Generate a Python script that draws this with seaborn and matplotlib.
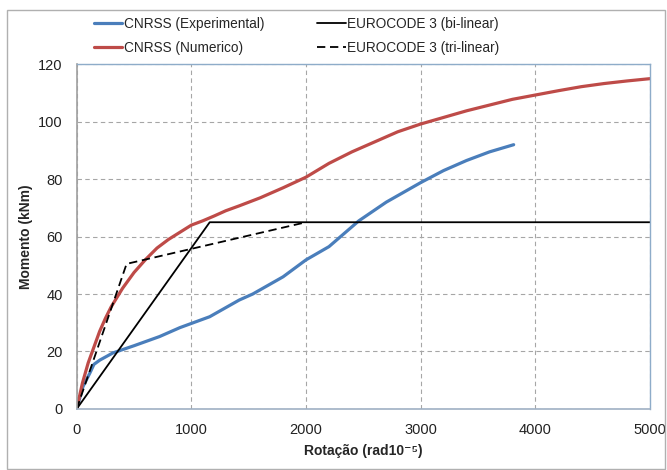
import numpy as np
import pandas as pd
import matplotlib
matplotlib.use("Agg")
import matplotlib.pyplot as plt
import seaborn as sns
from matplotlib.patches import Rectangle

# Data
exp_rot = [0, 55, 115, 150, 202, 316, 500, 723, 900, 1160, 1417, 1535, 1800,
           2000, 2200, 2461, 2700, 3000, 3200, 3400, 3600, 3811]
exp_mom = [0, 7.8, 12.5, 15.5, 17, 19.5, 22, 25.2, 28.3, 32.1, 37.9, 40, 46,
           51.9, 56.5, 65.5, 72, 78.8, 83, 86.5, 89.5, 92]

num_rot = [0, 50, 100, 150, 200, 250, 300, 400, 500, 600, 700, 800, 900, 1000,
           1100, 1200, 1300, 1417, 1600, 1800, 2000, 2200, 2400, 2600, 2800,
           3000, 3200, 3400, 3600, 3800, 4000, 4200, 4400, 4600, 4800, 5000]
num_mom = [0, 9, 16, 21.5, 27, 31.5, 35.5, 42, 47.5, 52, 56, 59, 61.5, 64,
           65.5, 67.2, 69, 70.7, 73.5, 77, 80.7, 85.5, 89.5, 93, 96.5,
           99.2, 101.5, 103.8, 105.8, 107.8, 109.3, 110.8, 112.2, 113.3, 114.2, 115]

bi_rot = [0, 1160, 5000]
bi_mom = [0, 65, 65]

tri_rot = [0, 435, 2000]
tri_mom = [0, 50.5, 65]

sns.set_style("white")
plt.rcParams['font.family'] = ['Liberation Sans', 'DejaVu Sans']

fig = plt.figure(figsize=(6.67, 4.7), dpi=100)
ax = fig.add_axes([0.115, 0.13, 0.8595, 0.7332])

sns.lineplot(x=exp_rot, y=exp_mom, ax=ax, color='#4A7EBB', lw=2.3,
             label='CNRSS (Experimental)', sort=False, estimator=None)
sns.lineplot(x=num_rot, y=num_mom, ax=ax, color='#BE4B48', lw=2.3,
             label='CNRSS (Numerico)', sort=False, estimator=None)
sns.lineplot(x=bi_rot, y=bi_mom, ax=ax, color='black', lw=1.3,
             label='EUROCODE 3 (bi-linear)', sort=False, estimator=None)
sns.lineplot(x=tri_rot, y=tri_mom, ax=ax, color='black', lw=1.3,
             dashes=False, label='EUROCODE 3 (tri-linear)', sort=False, estimator=None)
ax.lines[-1].set_dashes((4.6, 2.6))

ax.set_xlim(0, 5000)
ax.set_ylim(0, 120)
ax.set_xticks(range(0, 5001, 1000))
ax.set_yticks(range(0, 121, 20))
ax.grid(True, linestyle=(0, (4, 3)), color='#a6a6a6', lw=0.8)
ax.tick_params(axis='both', labelsize=10.5, labelcolor='#222222', length=4,
               direction='out', width=0.8, pad=6, color='#999999')

for side in ['top', 'right']:
    ax.spines[side].set_color('#8eacc9')
    ax.spines[side].set_linewidth(1.0)
ax.spines['left'].set_color('#a0a0a0')
ax.spines['left'].set_linewidth(1.2)
ax.spines['bottom'].set_color('#9fb0c4')
ax.spines['bottom'].set_linewidth(1.2)

ax.set_xlabel('Rotação (rad10⁻⁵)', fontsize=10, fontweight='bold', labelpad=5)
ax.set_ylabel('Momento (kNm)', fontsize=10, fontweight='bold', labelpad=4)

ax.get_legend().remove()
handles, labels = ax.get_legend_handles_labels()
fig.legend(handles, labels,
           loc='upper left', bbox_to_anchor=(0.122, 0.99), ncol=2,
           frameon=False, fontsize=9.8, handlelength=2.1, handletextpad=0.1,
           columnspacing=3.9, labelspacing=0.75)

fig.patches.append(Rectangle((0.011, 0.003), 0.986, 0.975, transform=fig.transFigure,
                             fill=False, edgecolor='#b0b0b0', lw=1.0))

fig.savefig('out.png', dpi=100)
